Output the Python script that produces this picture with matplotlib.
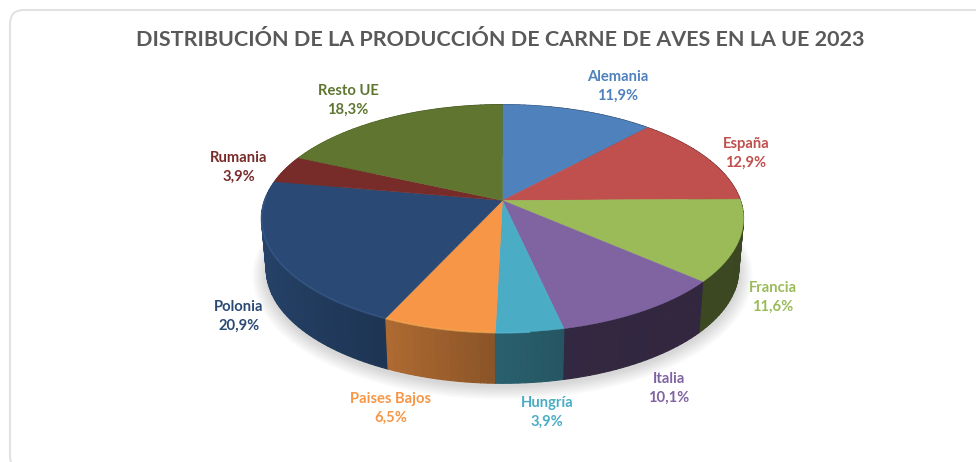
import numpy as np
import matplotlib
matplotlib.use("Agg")
import matplotlib.pyplot as plt
from matplotlib.collections import PolyCollection
from matplotlib.patches import FancyBboxPatch, Polygon

TITLE = "DISTRIBUCIÓN DE LA PRODUCCIÓN DE CARNE DE AVES EN LA UE 2023"
countries = ["Alemania", "España", "Francia", "Italia", "Hungría",
             "Paises Bajos", "Polonia", "Rumania", "Resto UE"]
shares = [11.9, 12.9, 11.6, 10.1, 3.9, 6.5, 20.9, 3.9, 18.3]
pct_labels = ["11,9%", "12,9%", "11,6%", "10,1%", "3,9%", "6,5%", "20,9%", "3,9%", "18,3%"]

colors = ["#4f81bd", "#c0504d", "#9bbb59", "#8064a2", "#4bacc6",
          "#f79646", "#2a4a75", "#772c2a", "#5f7530"]
label_xy = [(618, 77), (746, 144), (773, 288), (669, 379), (547, 403),
            (391, 399), (239, 307), (239, 158), (348, 91)]

CX, CY, RX, RY, K = 502.5, 200.5, 238.0, 111.0, 0.158
DEPTH, BOTTOM_SX = 51.0, 0.98


def project(theta, r=1.0, sx=1.0, dy=0.0):
    """Perspective projection of a disc point; theta runs clockwise from 12 o'clock."""
    X, Y = r * np.sin(theta), r * np.cos(theta)
    w = 1 + K * Y
    return CX + sx * RX * X / w, CY + dy - RY * Y / w


def side_shade(theta):
    return np.interp(np.sin(theta), [-1, -0.45, 0, 0.21, 0.225, 1],
                     [0.90, 0.72, 0.55, 0.50, 0.40, 0.38])


plt.rcParams["font.family"] = ["Lato", "DejaVu Sans"]
fig = plt.figure(figsize=(9.76, 4.62), dpi=100)
ax = fig.add_axes([0, 0, 1, 1])
ax.set_xlim(0, 976)
ax.set_ylim(462, 0)
ax.axis("off")

ax.add_patch(FancyBboxPatch((10, 10), 1000, 460, boxstyle="round,pad=0,rounding_size=14",
                            fc="white", ec="#e2e2e2", lw=1.5, zorder=0))

# soft shadow underneath
ring = np.linspace(0, 2 * np.pi, 361)
for grow in np.linspace(14, 1, 10):
    px, py = project(ring, sx=BOTTOM_SX, dy=DEPTH + 3)
    sxp = CX + (px - CX) * (1 + grow / 240)
    syp = CY + DEPTH / 2 + (py - CY - DEPTH / 2) * (1 + grow / 170)
    ax.add_patch(Polygon(np.c_[sxp, syp], closed=True, fc="#555555", ec="none",
                         alpha=0.022, zorder=1))

edges = np.radians(np.r_[0, np.cumsum(shares)] * 3.6)

# side wall
quads, qcol, depth_key = [], [], []
for i, col in enumerate(colors):
    rgb = np.array(matplotlib.colors.to_rgb(col))
    n = max(int(np.degrees(edges[i + 1] - edges[i]) / 1.5), 2)
    th = np.linspace(edges[i], edges[i + 1], n + 1)
    for a, b in zip(th[:-1], th[1:]):
        x1, y1 = project(np.array([a, b]))
        x2, y2 = project(np.array([b, a]), sx=BOTTOM_SX, dy=DEPTH)
        quads.append(np.c_[np.r_[x1, x2], np.r_[y1, y2]])
        qcol.append(np.clip(rgb * side_shade((a + b) / 2), 0, 1))
        depth_key.append(-np.cos((a + b) / 2))
order = np.argsort(depth_key)
ax.add_collection(PolyCollection([quads[j] for j in order],
                                 facecolors=[qcol[j] for j in order],
                                 edgecolors=[qcol[j] for j in order],
                                 linewidths=0.8, zorder=2))

# top face and bevelled rim
for i, col in enumerate(colors):
    th = np.linspace(edges[i], edges[i + 1], 90)
    x, y = project(th)
    ax.add_patch(Polygon(np.c_[np.r_[CX, x], np.r_[CY, y]], closed=True, fc=col,
                         ec=col, lw=0.3, zorder=3))
    rgb = np.array(matplotlib.colors.to_rgb(col))
    front = th[(np.cos(th) < 0.05) & (np.sin(th) < 0.1)]
    if front.size:
        rx, ry = project(front, dy=0.4)
        ax.plot(rx, ry, color=np.clip(rgb * 1.12 + 0.05, 0, 1), lw=1.2, alpha=0.6,
                zorder=4, solid_capstyle="butt")

# labels
for name, pct, col, (lx, ly) in zip(countries, pct_labels, colors, label_xy):
    ax.text(lx, ly, name, color=col, fontsize=10.6, fontweight="bold", ha="center", va="center", zorder=5)
    ax.text(lx, ly + 19, pct, color=col, fontsize=10.6, fontweight="bold", ha="center", va="center", zorder=5)

ax.text(500, 40, TITLE, color="#595959", fontsize=15.45, fontweight="bold",
        ha="center", va="center", zorder=5)

fig.savefig("out.png", dpi=100)
